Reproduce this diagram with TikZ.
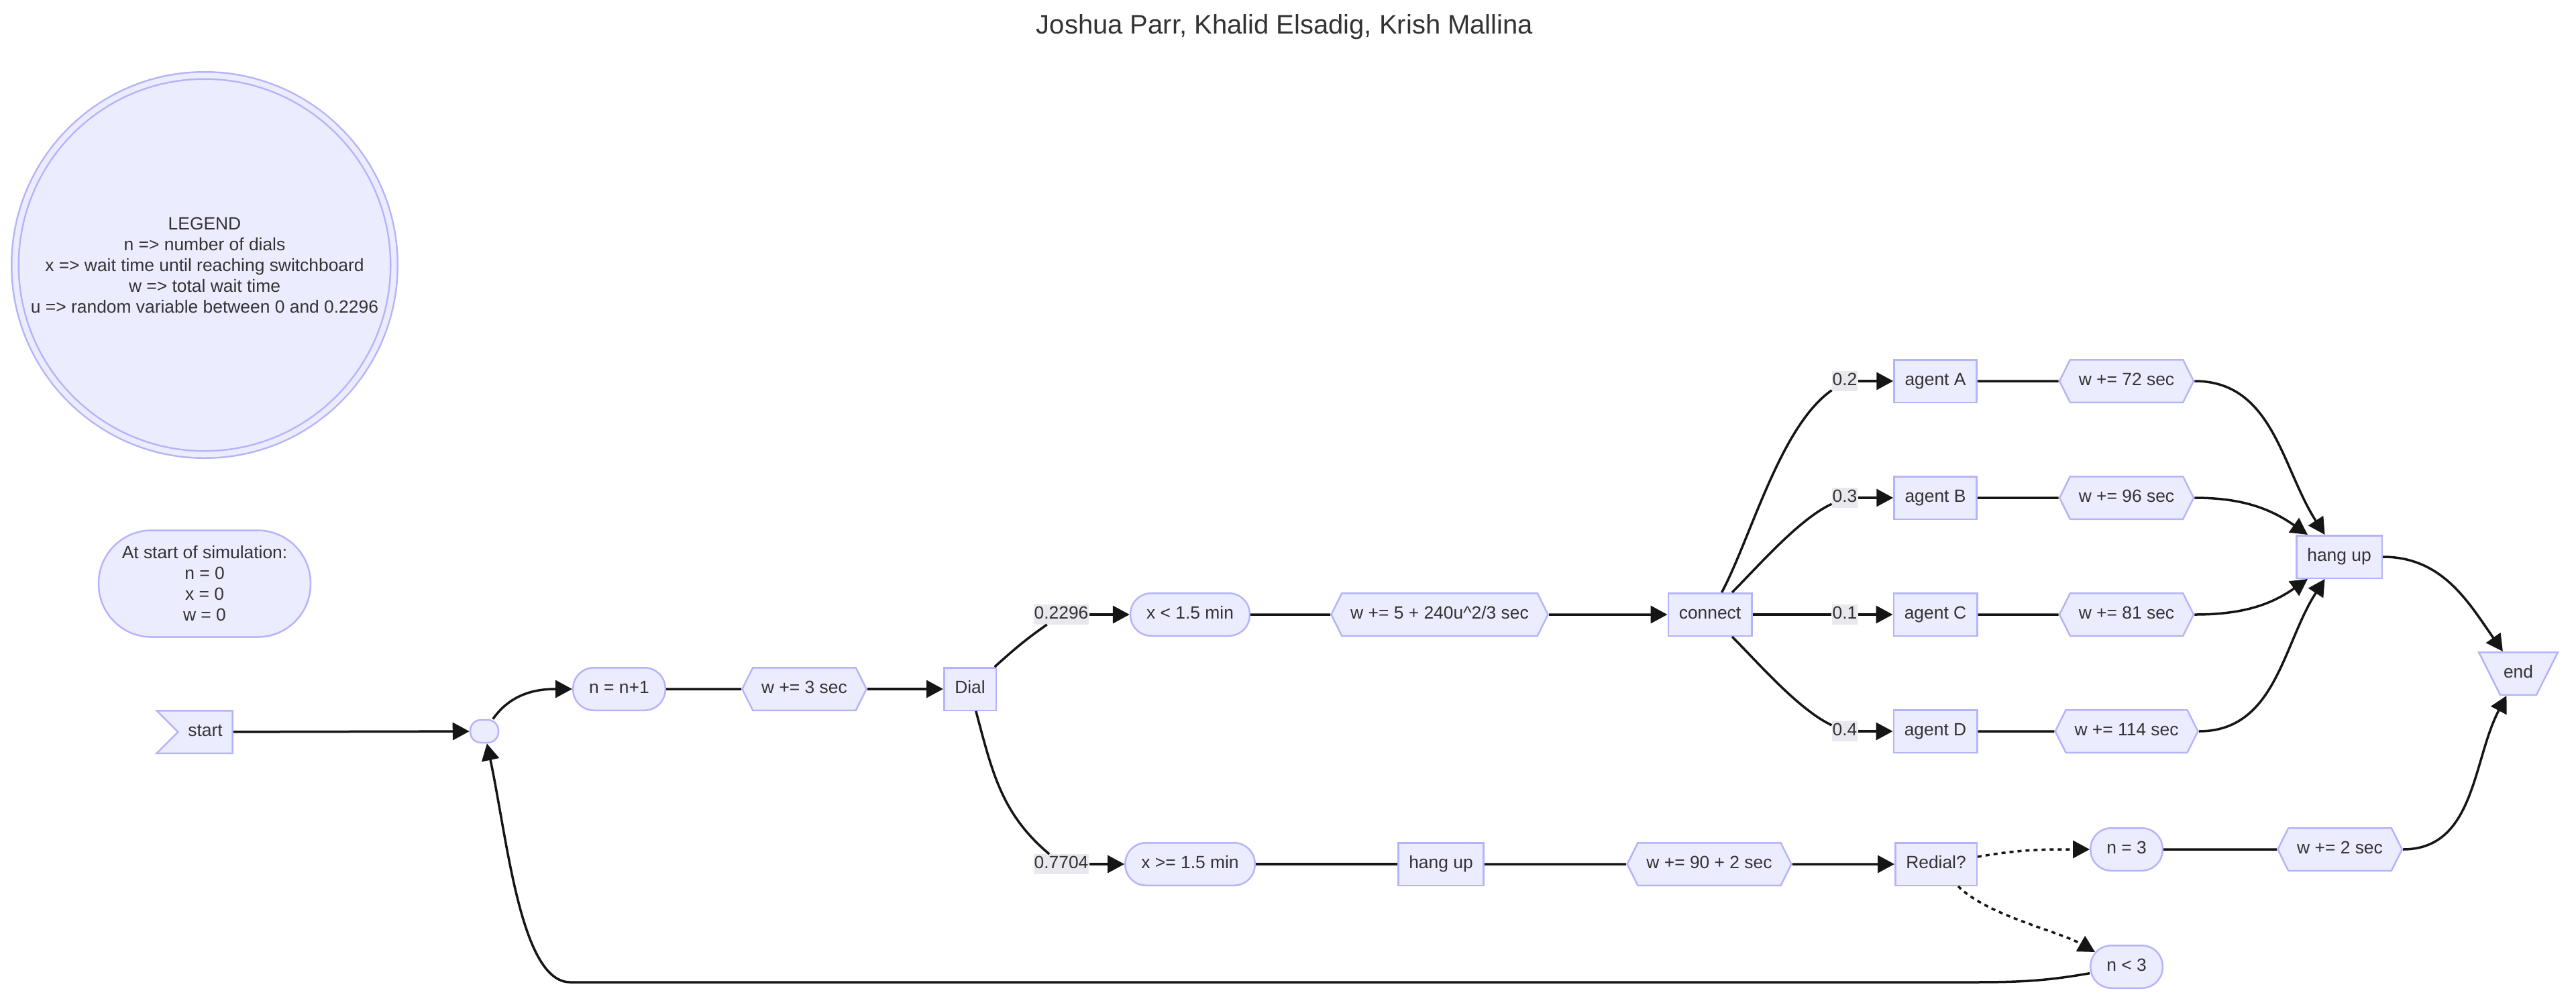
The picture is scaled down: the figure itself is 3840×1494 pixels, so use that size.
\documentclass[tikz,border=0pt]{standalone}
\usepackage{fontspec}
\setmainfont{Liberation Sans}
\usetikzlibrary{arrows.meta,shapes.symbols,shapes.geometric}

\definecolor{nodefill}{HTML}{ECECFF}
\definecolor{nodeline}{RGB}{180,180,250}
\definecolor{txt}{HTML}{333333}
\definecolor{edgec}{HTML}{151515}
\definecolor{lblbg}{RGB}{232,232,238}

\newcommand{\nfont}{\fontsize{26.4pt}{31pt}\selectfont}
\newcommand{\tfont}{\fontsize{40pt}{48pt}\selectfont}

\tikzset{
  plain/.style={draw=nodeline, fill=nodefill, line width=2.5pt, text=txt, font=\nfont},
  base/.style={plain, text height=19pt, text depth=5.5pt, inner ysep=19.5pt},
  box/.style={base, rectangle, inner xsep=16pt},
  pill/.style={base, rectangle, rounded corners=31pt, inner xsep=24pt},
  hexa/.style={base, signal, signal to=west and east, signal pointer angle=127, inner xsep=13pt},
  elabel/.style={fill=lblbg, text=txt, font=\nfont, text height=19pt, text depth=5.5pt, inner xsep=1pt, inner ysep=2.5pt},
  flow/.style={draw=edgec, line width=3.5pt},
  dots/.style={dash pattern=on 6pt off 6pt},
}

\begin{document}
\begin{tikzpicture}[x=1pt, y=1pt, >={Triangle[length=25pt,width=26pt]}, every edge/.style={flow}, node distance=174pt]
    \useasboundingbox (0,0) rectangle (3840,-1494);

    \node[font=\tfont, text=txt] (title) at (1915,-40) {Joshua Parr, Khalid Elsadig, Krish Mallina};

    \node[plain, circle, double=nodefill, double distance=8pt, minimum size=565pt, inner sep=0pt, align=center] (legend) at (305,-395)
        {LEGEND\\n => number of dials\\x => wait time until reaching switchboard\\w => total wait time\\u => random variable between 0 and 0.2296};
    \node[plain, rectangle, rounded corners=79pt, minimum width=316pt, minimum height=159pt, align=center] (init) at (305,-870)
        {At start of simulation:\\n = 0\\x = 0\\w = 0};

    % main row
    \node[base, signal, signal to=nowhere, signal from=west, signal pointer angle=90, inner xsep=15pt] (start) at (306,-1091) {start};
    \node[base, rectangle, rounded corners=16pt, minimum width=42pt, minimum height=34pt, inner sep=0pt, text height=0pt, text depth=0pt] (join) at (722,-1090) {};
    \node[pill] (inc) at (923,-1027) {n = n+1};
    \node[hexa] (w3) [right of=inc, node distance=276pt] {w += 3 sec};
    \node[box] (dial) [right of=w3, node distance=247pt] {Dial};

    % reached the switchboard
    \node[pill] (xlt) at (1774,-916) {x < 1.5 min};
    \node[hexa] (wsw) [right of=xlt, node distance=372pt] {w += 5 + 240u\textasciicircum 2/3 sec};
    \node[box] (conn) [right of=wsw, node distance=403pt] {connect};

    \node[box] (agA) at (2885,-568) {agent A};
    \node[box] (agB) [below of=agA] {agent B};
    \node[box] (agC) [below of=agB] {agent C};
    \node[box] (agD) [below of=agC] {agent D};
    \node[hexa] (wA) [right of=agA, node distance=285pt] {w += 72 sec};
    \node[hexa] (wB) [right of=agB, node distance=285pt] {w += 96 sec};
    \node[hexa] (wC) [right of=agC, node distance=285pt] {w += 81 sec};
    \node[hexa] (wD) [right of=agD, node distance=285pt] {w += 114 sec};
    \node[box] (hangR) at (3487,-830) {hang up};
    \node[base, trapezium, shape border rotate=180, trapezium angle=63.4, inner xsep=5pt] (finish) at (3754,-1004) {end};

    % gave up waiting
    \node[pill] (xge) [below of=xlt, node distance=372pt] {x >= 1.5 min};
    \node[box] (hangL) [right of=xge, node distance=374pt] {hang up};
    \node[hexa] (w90) [right of=hangL, node distance=400pt] {w += 90 + 2 sec};
    \node[box] (redial) [right of=w90, node distance=338pt] {Redial?};
    \node[pill] (neq) at (3170,-1266) {n = 3};
    \node[hexa] (w2) [right of=neq, node distance=318pt] {w += 2 sec};
    \node[pill] (nlt) [below of=neq, node distance=175pt] {n < 3};
    \coordinate (loopR) at (2935,-1464);
    \coordinate (loopL) at (850,-1464);

    % probabilities
    \node[elabel] (l2296) at (1582,-916) {0.2296};
    \node[elabel] (l7704) at (1582,-1288) {0.7704};
    \node[elabel] (l2) at (2750,-568) {0.2};
    \node[elabel] (l3) at (2750,-742) {0.3};
    \node[elabel] (l1) at (2750,-916) {0.1};
    \node[elabel] (l4) at (2750,-1090) {0.4};

    \path[->] (start) edge (join);
    \path[->] (join) edge[out=55,in=180] (inc);
    \path (inc) edge (w3);
    \path[->] (w3) edge (dial);
    \path (dial) edge[out=42,in=215] (l2296);
    \path[->] (l2296) edge (xlt);
    \path (dial) edge[out=-75,in=140] (l7704);
    \path[->] (l7704) edge (xge);
    \path (xlt) edge (wsw);
    \path[->] (wsw) edge (conn);

    \path (conn) edge[out=62,in=215,looseness=0.7] (l2);
    \path (conn) edge[out=45,in=205,looseness=0.7] (l3);
    \path (conn) edge (l1);
    \path (conn) edge[out=-45,in=155,looseness=0.7] (l4);
    \path[->] (l2) edge (agA);
    \path[->] (l3) edge (agB);
    \path[->] (l1) edge (agC);
    \path[->] (l4) edge (agD);
    \path (agA) edge (wA);
    \path (agB) edge (wB);
    \path (agC) edge (wC);
    \path (agD) edge (wD);
    \path[->] (wA) edge[out=0,in=123] (hangR);
    \path[->] (wB) edge[out=0,in=145] (hangR);
    \path[->] (wC) edge[out=0,in=215] (hangR);
    \path[->] (wD) edge[out=0,in=237] (hangR);
    \path[->] (hangR) edge[out=0,in=125] (finish);

    \path (xge) edge (hangL);
    \path (hangL) edge (w90);
    \path[->] (w90) edge (redial);
    \path[->] (redial) edge[dots,out=10,in=180] (neq);
    \path[->] (redial) edge[dots,out=-45,in=150,looseness=0.7] ([xshift=8pt,yshift=22pt]nlt.west);
    \path (neq) edge (w2);
    \path[->] (w2) edge[out=0,in=-118] (finish);
    \draw[->, flow] (nlt) to[out=190,in=0] (loopR) -- (loopL) to[out=180,in=-78,out looseness=0.5] (join);
\end{tikzpicture}
\end{document}
